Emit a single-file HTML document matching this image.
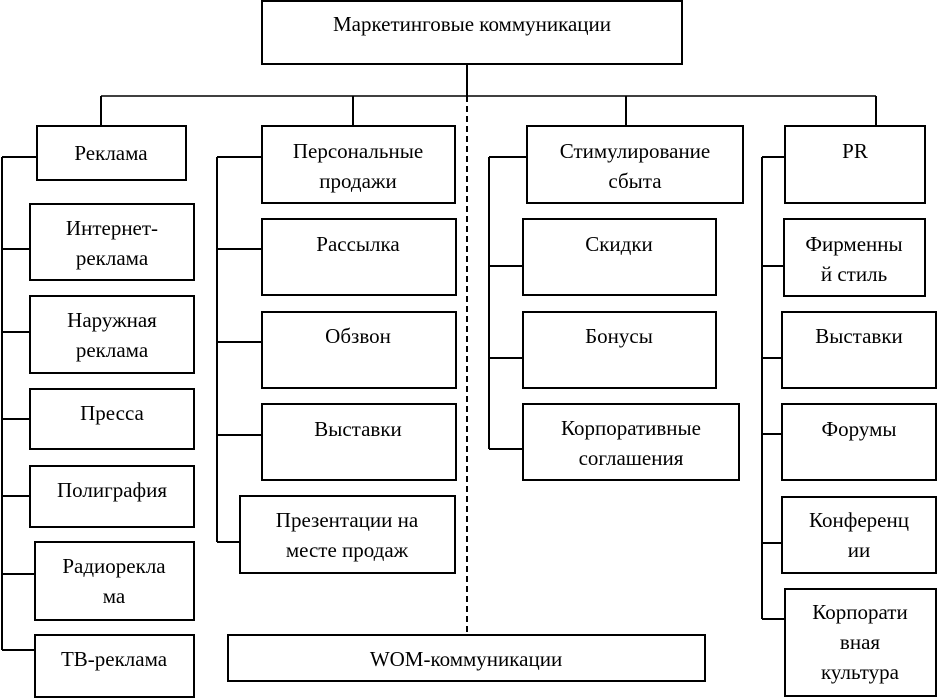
<!DOCTYPE html>
<html><head><meta charset="utf-8"><style>html,body{margin:0;padding:0;background:#fff}svg{display:block}</style></head><body>
<svg width="938" height="698" viewBox="0 0 938 698" xmlns="http://www.w3.org/2000/svg">
<g fill="none" stroke="#000" stroke-width="2">
<rect x="262" y="1" width="420" height="63"/>
<line x1="467" y1="64" x2="467" y2="96"/>
<line x1="101" y1="96" x2="876" y2="96" stroke-width="1.5"/>
<line x1="101" y1="96" x2="101" y2="126"/>
<line x1="353" y1="96" x2="353" y2="126"/>
<line x1="626" y1="96" x2="626" y2="126"/>
<line x1="876" y1="96" x2="876" y2="126"/>
<line x1="467" y1="96" x2="467" y2="635" stroke-dasharray="6,4"/>
<rect x="37" y="126" width="149" height="54"/>
<line x1="2" y1="157" x2="2" y2="650"/>
<line x1="2" y1="157" x2="37" y2="157"/>
<rect x="30" y="204" width="164" height="76"/>
<rect x="30" y="296" width="164" height="77"/>
<rect x="30" y="389" width="164" height="60"/>
<rect x="30" y="466" width="164" height="61"/>
<rect x="35" y="542" width="159" height="78"/>
<rect x="35" y="635" width="159" height="62"/>
<line x1="2" y1="249" x2="30" y2="249"/>
<line x1="2" y1="332" x2="30" y2="332"/>
<line x1="2" y1="419" x2="30" y2="419"/>
<line x1="2" y1="496" x2="30" y2="496"/>
<line x1="2" y1="574" x2="35" y2="574"/>
<line x1="2" y1="650" x2="35" y2="650"/>
<rect x="262" y="126" width="193" height="77"/>
<line x1="217" y1="157" x2="217" y2="542"/>
<line x1="217" y1="157" x2="262" y2="157"/>
<rect x="262" y="219" width="194" height="76"/>
<rect x="262" y="312" width="194" height="76"/>
<rect x="262" y="404" width="194" height="76"/>
<rect x="240" y="496" width="215" height="77"/>
<line x1="217" y1="249" x2="262" y2="249"/>
<line x1="217" y1="342" x2="262" y2="342"/>
<line x1="217" y1="435" x2="262" y2="435"/>
<line x1="217" y1="542" x2="240" y2="542"/>
<rect x="228" y="635" width="477" height="46"/>
<rect x="527" y="126" width="216" height="77"/>
<line x1="489" y1="157" x2="489" y2="449"/>
<line x1="489" y1="157" x2="527" y2="157"/>
<rect x="523" y="219" width="193" height="76"/>
<rect x="523" y="312" width="193" height="76"/>
<rect x="523" y="404" width="216" height="76"/>
<line x1="489" y1="266" x2="523" y2="266"/>
<line x1="489" y1="358" x2="523" y2="358"/>
<line x1="489" y1="449" x2="523" y2="449"/>
<rect x="785" y="126" width="140" height="77"/>
<line x1="762" y1="157" x2="762" y2="619"/>
<line x1="762" y1="157" x2="785" y2="157"/>
<rect x="784" y="219" width="141" height="77"/>
<rect x="782" y="312" width="154" height="76"/>
<rect x="782" y="404" width="154" height="76"/>
<rect x="782" y="497" width="154" height="76"/>
<rect x="785" y="589" width="151" height="107"/>
<line x1="762" y1="266" x2="784" y2="266"/>
<line x1="762" y1="358" x2="782" y2="358"/>
<line x1="762" y1="434" x2="782" y2="434"/>
<line x1="762" y1="543" x2="782" y2="543"/>
<line x1="762" y1="619" x2="785" y2="619"/>
</g>
<g font-family="'Liberation Serif', 'DejaVu Serif', serif" font-size="21" text-anchor="middle" fill="#000">
<text x="472" y="31">Маркетинговые коммуникации</text>
<text x="111" y="160">Реклама</text>
<text x="112" y="235">Интернет-</text><text x="112" y="265">реклама</text>
<text x="112" y="327">Наружная</text><text x="112" y="357">реклама</text>
<text x="112" y="420">Пресса</text>
<text x="112" y="497">Полиграфия</text>
<text x="114" y="573">Радиорекла</text><text x="114" y="603">ма</text>
<text x="114" y="666">ТВ-реклама</text>
<text x="358" y="158">Персональные</text><text x="358" y="188">продажи</text>
<text x="358" y="251">Рассылка</text>
<text x="358" y="343">Обзвон</text>
<text x="358" y="436">Выставки</text>
<text x="347" y="527">Презентации на</text><text x="347" y="557">месте продаж</text>
<text x="466" y="666">WOM-коммуникации</text>
<text x="635" y="158">Стимулирование</text><text x="635" y="188">сбыта</text>
<text x="619" y="251">Скидки</text>
<text x="619" y="343">Бонусы</text>
<text x="631" y="435">Корпоративные</text><text x="631" y="465">соглашения</text>
<text x="855" y="158">PR</text>
<text x="854" y="251">Фирменны</text><text x="854" y="281">й стиль</text>
<text x="859" y="343">Выставки</text>
<text x="859" y="436">Форумы</text>
<text x="859" y="527">Конференц</text><text x="859" y="557">ии</text>
<text x="860" y="619">Корпорати</text><text x="860" y="649">вная</text><text x="860" y="679">культура</text>
</g>
</svg>
</body></html>
